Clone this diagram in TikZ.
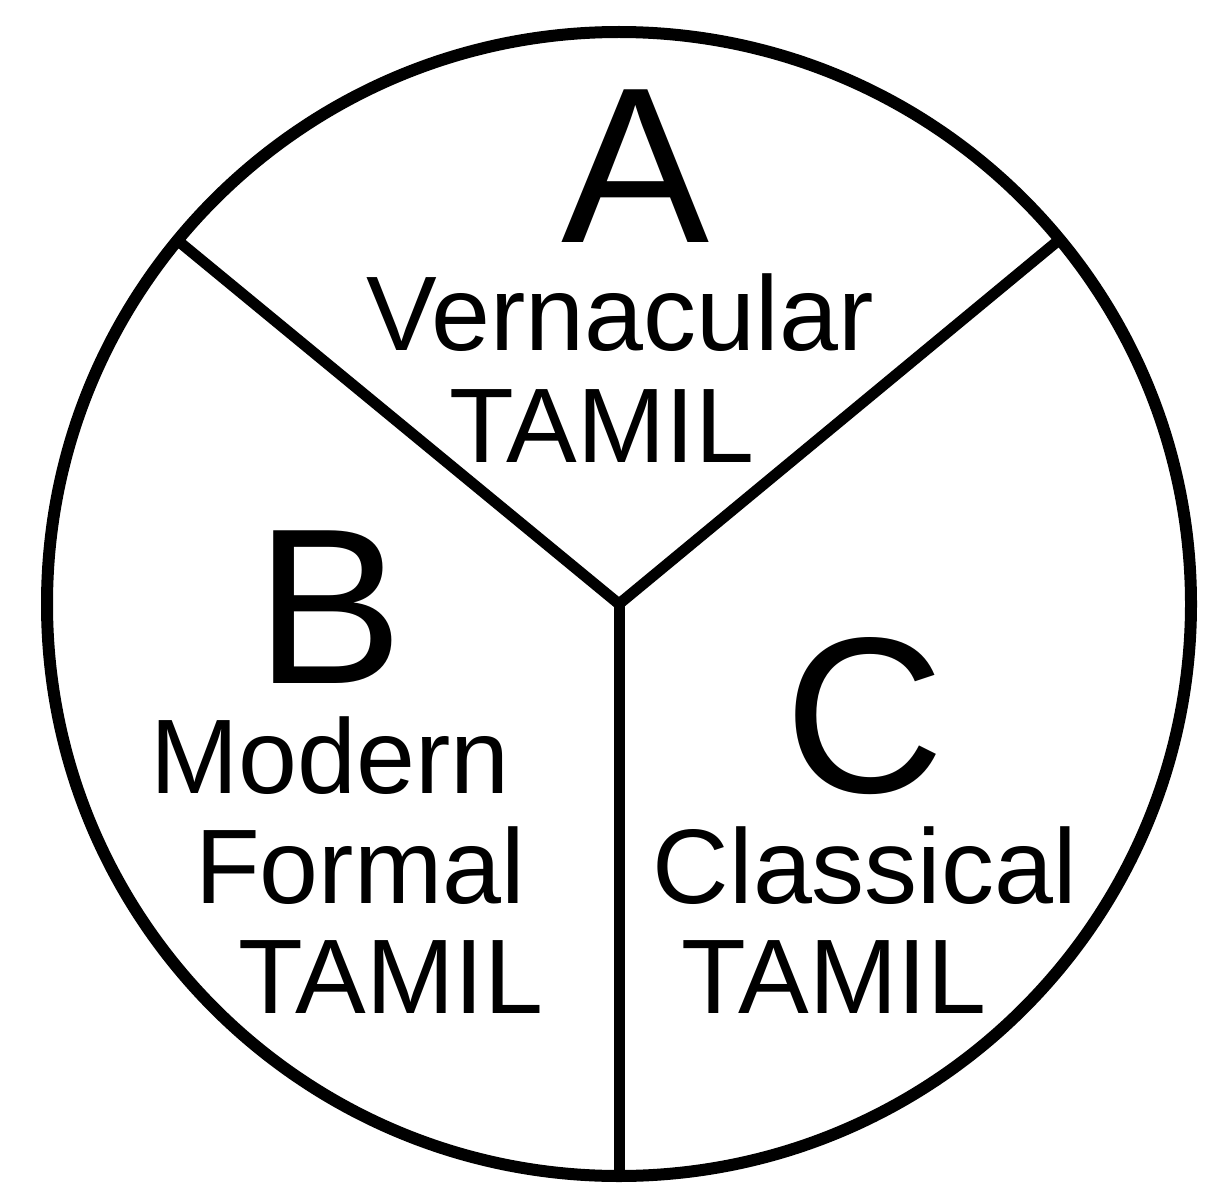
\documentclass[tikz,border=0pt]{standalone}
\usepackage{fontspec}
\setmainfont{Liberation Sans}
\begin{document}
\begin{tikzpicture}[x=1pt,y=-1pt,
  big/.style={font=\fontsize{222}{222}\selectfont, anchor=base, inner sep=0pt},
  word/.style={font=\fontsize{106}{106}\selectfont, anchor=base, inner sep=0pt},
  rim/.style={line width=12pt},
  spoke/.style={line width=11pt}]
\useasboundingbox (0,0) rectangle (1211,1188);
\fill[white] (0,0) rectangle (1211,1188);
\coordinate (O) at (619,604);
\coordinate (P1) at (177,240);
\coordinate (P2) at (1059,240);
\coordinate (P3) at (619,1176);
\draw[rim] (O) circle[radius=572];
\draw[spoke] (P1) -- (O) -- (P2);
\draw[spoke] (O) -- (P3);
\node[big] (la) at (636,242) {A};
\node[word] (va) at (620,350) {Vernacular};
\node[word] (ta) at (602,462) {TAMIL};
\node[big] (lb) at (330,683) {B};
\node[word] (mb) at (330,793) {Modern};
\node[word] (fb) at (360,903) {Formal};
\node[word] (tb) at (391,1013) {TAMIL};
\node[big] (lc) at (865,792) {C};
\node[word] (cc) at (865,903) {Classical};
\node[word] (tc) at (834,1013) {TAMIL};
\end{tikzpicture}
\end{document}
